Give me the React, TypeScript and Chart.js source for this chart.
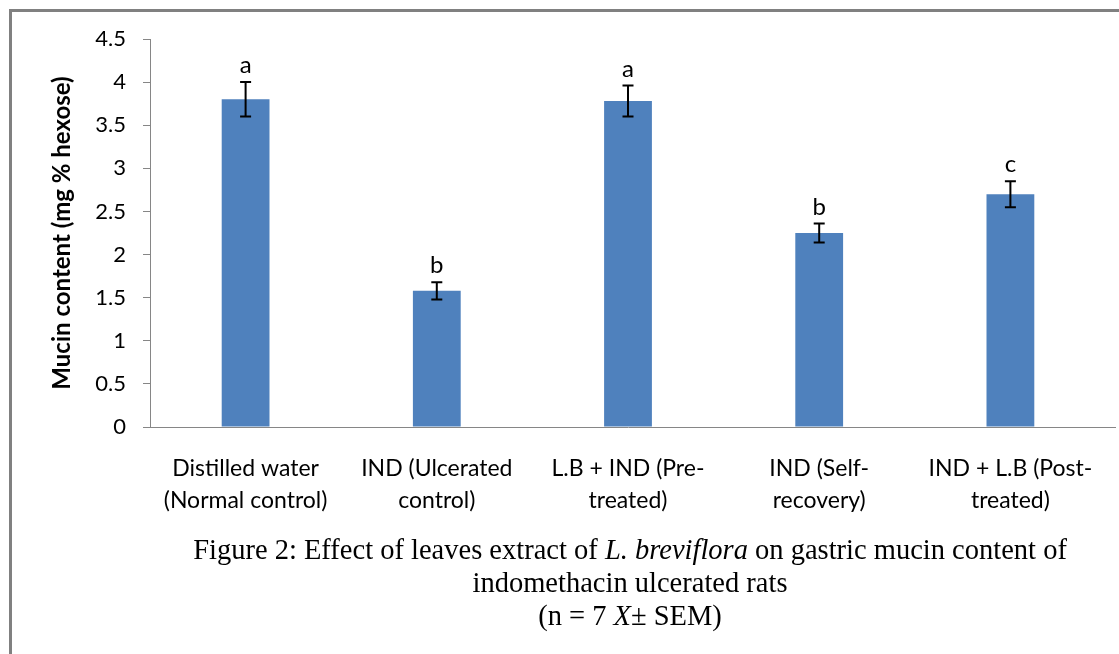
import React, { useEffect, useRef } from "react";
import { Chart, registerables } from "chart.js";

Chart.register(...registerables);

const categories: string[][] = [
  ["Distilled water", "(Normal control)"],
  ["IND (Ulcerated", "control)"],
  ["L.B + IND (Pre-", "treated)"],
  ["IND (Self-", "recovery)"],
  ["IND + L.B (Post-", "treated)"],
];
const mucinValues: number[] = [3.8, 1.58, 3.78, 2.25, 2.7];
const semValues: number[] = [0.2, 0.1, 0.18, 0.11, 0.15];
const sigLetters: string[] = ["a", "b", "a", "b", "c"];
const yTickLabels: string[] = ["0", "0.5", "1", "1.5", "2", "2.5", "3", "3.5", "4", "4.5"];
const yTitle = "Mucin content (mg % hexose)";

const W = 1119;
const H = 654;

const overlayPlugin = {
  id: "overlay",
  afterDatasetsDraw(chart: any) {
    const ctx = chart.ctx as CanvasRenderingContext2D;
    const meta = chart.getDatasetMeta(0);
    const y = chart.scales.y;
    ctx.save();
    meta.data.forEach((bar: any, i: number) => {
      const x = bar.x;
      const top = y.getPixelForValue(mucinValues[i] + semValues[i]);
      const bot = y.getPixelForValue(mucinValues[i] - semValues[i]);
      ctx.strokeStyle = "#000";
      ctx.lineWidth = 2;
      ctx.beginPath();
      ctx.moveTo(x, top);
      ctx.lineTo(x, bot);
      ctx.moveTo(x - 5.5, top);
      ctx.lineTo(x + 5.5, top);
      ctx.moveTo(x - 5.5, bot);
      ctx.lineTo(x + 5.5, bot);
      ctx.stroke();
      ctx.fillStyle = "#000";
      ctx.font = "24px Lato";
      ctx.textAlign = "center";
      ctx.textBaseline = "alphabetic";
      ctx.fillText(sigLetters[i], x, top - 9);
    });
    ctx.restore();
  },
  afterDraw(chart: any) {
    const ctx = chart.ctx as CanvasRenderingContext2D;
    const area = chart.chartArea;
    ctx.save();
    ctx.strokeStyle = "#868686";
    ctx.lineWidth = 1;
    ctx.beginPath();
    ctx.moveTo(area.right, Math.round(area.bottom) + 0.5);
    ctx.lineTo(1116, Math.round(area.bottom) + 0.5);
    ctx.stroke();

    ctx.strokeStyle = "#808080";
    ctx.lineWidth = 3;
    ctx.beginPath();
    ctx.moveTo(10.5, H + 5);
    ctx.lineTo(10.5, 10.5);
    ctx.lineTo(W + 5, 10.5);
    ctx.stroke();

    ctx.fillStyle = "#000";
    ctx.font = "bold 24px Lato";
    ctx.textAlign = "center";
    ctx.textBaseline = "middle";
    ctx.translate(62, (area.top + area.bottom) / 2);
    ctx.rotate(-Math.PI / 2);
    ctx.fillText(yTitle, 0, 0);
    ctx.setTransform(1, 0, 0, 1, 0, 0);

    const cx = 630;
    const drawMixed = (parts: [string, boolean][], baseline: number) => {
      const fontN = "28.5px 'Liberation Serif'";
      const fontI = "italic 28.5px 'Liberation Serif'";
      let total = 0;
      parts.forEach(([t, it]) => {
        ctx.font = it ? fontI : fontN;
        total += ctx.measureText(t).width;
      });
      let x = cx - total / 2;
      ctx.textAlign = "left";
      ctx.textBaseline = "alphabetic";
      parts.forEach(([t, it]) => {
        ctx.font = it ? fontI : fontN;
        ctx.fillText(t, x, baseline);
        x += ctx.measureText(t).width;
      });
    };
    drawMixed(
      [
        ["Figure 2: Effect of leaves extract of ", false],
        ["L. breviflora", true],
        [" on gastric mucin content of", false],
      ],
      559
    );
    drawMixed([["indomethacin ulcerated rats", false]], 592);
    drawMixed(
      [
        ["(n = 7 ", false],
        ["X", true],
        ["\u00b1 SEM)", false],
      ],
      625
    );
    ctx.restore();
  },
};

export default function App() {
  const ref = useRef<HTMLCanvasElement | null>(null);
  useEffect(() => {
    if (!ref.current) return;
    const chart = new Chart(ref.current, {
      type: "bar",
      data: {
        labels: categories,
        datasets: [
          {
            data: mucinValues,
            backgroundColor: "#4F81BD",
            borderWidth: 0,
            barPercentage: 0.5,
            categoryPercentage: 0.5,
          },
        ],
      },
      options: {
        animation: false,
        responsive: false,
        devicePixelRatio: 1,
        layout: { padding: { top: 39, right: 13, left: 0, bottom: 0 } },
        plugins: {
          legend: { display: false },
          tooltip: { enabled: false },
        },
        scales: {
          x: {
            grid: { display: false },
            border: { display: true, color: "#868686", width: 1 },
            ticks: {
              color: "#000",
              font: { family: "Lato", size: 23, lineHeight: 1.39 },
              padding: 18,
              maxRotation: 0,
              autoSkip: false,
            },
            afterFit: (s: any) => {
              s.height = H - 427;
            },
          },
          y: {
            min: 0,
            max: 4.5,
            grid: {
              display: true,
              drawOnChartArea: false,
              tickLength: 7,
              color: "#868686",
            },
            border: { display: true, color: "#868686", width: 1 },
            ticks: {
              stepSize: 0.5,
              color: "#000",
              font: { family: "Lato", size: 22 },
              padding: 17,
              callback: (_v: any, i: number) => yTickLabels[i],
            },
            afterFit: (s: any) => {
              s.width = 150;
            },
          },
        },
      },
      plugins: [overlayPlugin],
    });
    return () => chart.destroy();
  }, []);
  return (
    <div style={{ position: "fixed", left: 0, top: 0, width: W, height: H, background: "#fff" }}>
      <canvas ref={ref} width={W} height={H} style={{ display: "block" }} />
    </div>
  );
}
